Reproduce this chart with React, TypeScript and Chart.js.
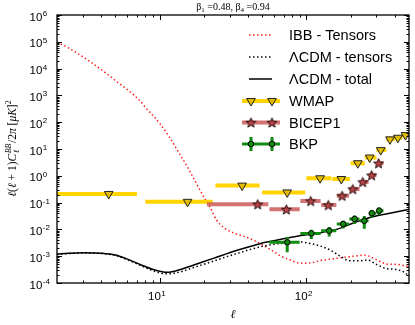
import React, { useEffect, useRef } from 'react';
import { Chart, registerables } from 'chart.js';
Chart.register(...registerables);

const W = 415;
const H = 325;

// ---- Theory curves ----
const IBB_ELL = [2, 2.32, 2.67, 3.05, 3.48, 5, 7.35, 8.15, 9.08, 10.1, 11.6, 13.7, 15.5, 18.8, 20.3, 22.1, 24.4, 27.8, 32.4, 37.9, 44.3, 51.6, 60.3, 66.7, 75.9, 86.3, 95.7, 109, 124, 160, 218, 248, 297, 330, 365, 405, 500];
const IBB_TENSORS = [9.5e4, 6.5e4, 4.1e4, 2.6e4, 1.6e4, 3.6e3, 631, 316, 170, 85, 29, 6.5, 2.1, 0.3, 0.141, 0.066, 0.0224, 0.011, 7.1e-3, 5.4e-3, 3.8e-3, 2.4e-3, 1.48e-3, 1.02e-3, 7.6e-4, 5.75e-4, 5.4e-4, 5.75e-4, 6.8e-4, 8.3e-4, 1.02e-3, 1.1e-3, 7.6e-4, 5.75e-4, 5.0e-4, 5.0e-4, 4.1e-4];

const LCDM_T_ELL = [2, 2.4, 3.1, 4, 5, 6.1, 7.5, 9.2, 11.3, 13.9, 17.1, 22.6, 27.8, 34.2, 42, 51.6, 63.4, 77.8, 90.8, 106, 124, 145, 169, 197, 230, 261, 297, 347, 405, 460, 500];
const LCDM_TENSORS = [1.17e-3, 1.26e-3, 1.32e-3, 1.26e-3, 1.07e-3, 7.2e-4, 4.4e-4, 2.75e-4, 2.2e-4, 2.6e-4, 3.8e-4, 6.2e-4, 9.1e-4, 1.29e-3, 1.82e-3, 2.4e-3, 2.9e-3, 3.2e-3, 3.4e-3, 3.0e-3, 2.4e-3, 1.7e-3, 1.02e-3, 6.8e-4, 6.8e-4, 7.2e-4, 5.1e-4, 3.5e-4, 3.2e-4, 2.6e-4, 1.82e-4];

const LCDM_TOT_ELL = [2, 2.4, 3.1, 4, 5, 6.1, 7.5, 9.2, 11.3, 13.9, 17.1, 23.2, 34.2, 49, 63.4, 86.3, 117.5, 160, 207, 282, 385, 500];
const LCDM_TOTAL = [1.2e-3, 1.29e-3, 1.35e-3, 1.29e-3, 1.1e-3, 7.6e-4, 4.7e-4, 3.1e-4, 2.5e-4, 3.2e-4, 4.7e-4, 8.3e-4, 1.7e-3, 3.0e-3, 4.0e-3, 5.6e-3, 7.1e-3, 1.0e-2, 1.7e-2, 2.95e-2, 4.2e-2, 5.6e-2];

// ---- WMAP upper limits ----
const WMAP_ELL = [4.5, 15.5, 36.5, 74, 124, 173, 224, 270, 321, 371, 420, 473];
const WMAP_LO = [2, 8, 24, 50, 100, 150, 200, 250, 300, 350, 400, 450];
const WMAP_HI = [7, 23, 48, 98, 148, 198, 250, 300, 350, 400, 450, 500];
const WMAP_LIMIT = [0.21, 0.107, 0.43, 0.24, 0.81, 0.76, 2.95, 4.8, 9.1, 22.9, 26.3, 33.1];

// ---- BICEP1 ----
const BICEP1_ELL = [46.6, 73, 107, 141, 175, 207, 242, 278, 310];
const BICEP1_LO = [21, 56, 91, 126, 161, 196, 231, 266, 301];
const BICEP1_HI = [55, 90, 125, 160, 195, 230, 265, 300, 335];
const BICEP1_VAL = [0.087, 0.056, 0.115, 0.081, 0.18, 0.32, 0.59, 1.05, 2.95];

// ---- BKP ----
const BKP_ELL = [74, 108, 143, 178, 213, 248, 279, 313];
const BKP_LO = [56, 91, 126, 161, 196, 231, 266, 301];
const BKP_HI = [90, 125, 160, 195, 230, 265, 300, 335];
const BKP_VAL = [0.0033, 0.0071, 0.0089, 0.0159, 0.0245, 0.021, 0.04, 0.05];
const BKP_ERR = [0.0019, 0.0027, 0.0035, 0.005, 0.0085, 0.0105, 0.012, 0.0155];

// ---- axes ----
const X_MIN = 2;
const X_MAX = 500;
const Y_MIN = 1e-4;
const Y_MAX = 1e6;
const X_TICK_EXP = [1, 2];
const Y_TICK_EXP = [-4, -3, -2, -1, 0, 1, 2, 3, 4, 5, 6];

const TITLE_PARTS = ['β', '1', ' =0.48, β', '4', ' =0.94'];
const LEGEND_LABELS = ['IBB - Tensors', 'ΛCDM - tensors', 'ΛCDM - total', 'WMAP', 'BICEP1', 'BKP'];

const RED = '#ff2020';
const YELLOW = '#ffd400';
const TRI_FILL = '#e2bc00';
const BICEP_BAR = 'rgba(205,90,90,0.85)';
const STAR_FILL = '#b84448';
const GREEN = '#108c10';

const SANS = "'Liberation Sans', Arial, sans-serif";
const SERIF = "'Liberation Serif', 'DejaVu Serif', serif";

function makeStar(): HTMLCanvasElement {
  const c = document.createElement('canvas');
  c.width = 13;
  c.height = 13;
  const g = c.getContext('2d')!;
  g.beginPath();
  for (let i = 0; i < 10; i++) {
    const r = i % 2 === 0 ? 5.2 : 2.2;
    const a = -Math.PI / 2 + (i * Math.PI) / 5;
    const px = 6.5 + r * Math.cos(a);
    const py = 7 + r * Math.sin(a);
    if (i === 0) g.moveTo(px, py);
    else g.lineTo(px, py);
  }
  g.closePath();
  g.fillStyle = STAR_FILL;
  g.fill();
  g.lineWidth = 1;
  g.strokeStyle = '#2a1010';
  g.stroke();
  return c;
}

const pts = (xs: number[], ys: number[]) => xs.map((x, i) => ({ x, y: ys[i] }));
const hSeg = (lo: number[], hi: number[], v: number[]) =>
  lo.flatMap((l, i) => [{ x: l, y: v[i] }, { x: hi[i], y: v[i] }, { x: hi[i], y: null as any }]);
const vSeg = (xs: number[], v: number[], e: number[]) =>
  xs.flatMap((x, i) => [{ x, y: v[i] - e[i] }, { x, y: v[i] + e[i] }, { x, y: null as any }]);

function drawTri(ctx: CanvasRenderingContext2D, x: number, y: number, r: number) {
  ctx.beginPath();
  ctx.moveTo(x, y + r);
  ctx.lineTo(x - r * Math.sin(Math.PI / 3), y - r / 2);
  ctx.lineTo(x + r * Math.sin(Math.PI / 3), y - r / 2);
  ctx.closePath();
  ctx.fillStyle = TRI_FILL;
  ctx.fill();
  ctx.lineWidth = 1;
  ctx.strokeStyle = '#222';
  ctx.stroke();
}

const decoPlugin = (star: HTMLCanvasElement) => ({
  id: 'deco',
  afterDraw(chart: any) {
    const { ctx, chartArea: a, scales } = chart;
    const xs = scales.x;
    const ys = scales.y;
    ctx.save();
    // frame
    ctx.strokeStyle = '#000';
    ctx.lineWidth = 1.3;
    ctx.strokeRect(a.left, a.top, a.right - a.left, a.bottom - a.top);
    ctx.lineWidth = 1;
    // x ticks
    ctx.beginPath();
    for (let d = 0; d <= 3; d++) {
      for (let m = 1; m <= 9; m++) {
        const v = m * Math.pow(10, d);
        if (v <= X_MIN || v >= X_MAX) continue;
        const px = Math.round(xs.getPixelForValue(v)) + 0.5;
        const len = m === 1 ? 5 : 2.5;
        ctx.moveTo(px, a.bottom);
        ctx.lineTo(px, a.bottom - len);
        ctx.moveTo(px, a.top);
        ctx.lineTo(px, a.top + len);
      }
    }
    for (let d = -4; d <= 6; d++) {
      for (let m = 1; m <= 9; m++) {
        const v = m * Math.pow(10, d);
        if (v <= Y_MIN * 0.999 || v >= Y_MAX * 1.001) continue;
        const py = Math.round(ys.getPixelForValue(v)) + 0.5;
        const len = m === 1 ? 5 : 2.5;
        ctx.moveTo(a.left, py);
        ctx.lineTo(a.left + len, py);
        ctx.moveTo(a.right, py);
        ctx.lineTo(a.right - len, py);
      }
    }
    ctx.stroke();

    // tick labels
    ctx.fillStyle = '#000';
    ctx.textBaseline = 'alphabetic';
    ctx.textAlign = 'left';
    for (const e of Y_TICK_EXP) {
      const py = ys.getPixelForValue(Math.pow(10, e));
      ctx.font = `11.5px ${SANS}`;
      ctx.fillText('10', 29.5, py + 5.5);
      const w = ctx.measureText('10').width;
      ctx.font = `8px ${SANS}`;
      ctx.fillText(String(e), 29.5 + w + 0.5, py + 1);
    }
    for (const e of X_TICK_EXP) {
      const px = xs.getPixelForValue(Math.pow(10, e));
      ctx.font = `11.5px ${SANS}`;
      const w1 = ctx.measureText('10').width;
      ctx.font = `8px ${SANS}`;
      const w2 = ctx.measureText(String(e)).width;
      const x0 = px - 3 - (w1 + w2) / 2;
      ctx.font = `11.5px ${SANS}`;
      ctx.fillText('10', x0, a.bottom + 17);
      ctx.font = `8px ${SANS}`;
      ctx.fillText(String(e), x0 + w1 + 0.5, a.bottom + 12.5);
    }

    // x label
    ctx.font = `italic 12px ${SERIF}`;
    ctx.textAlign = 'center';
    ctx.fillText('ℓ', (a.left + a.right) / 2, 318);

    // title
    const runs = TITLE_PARTS.map((t, i) => ({ t, sub: i % 2 === 1 }));
    let tw = 0;
    for (const r of runs) {
      ctx.font = r.sub ? `7px ${SERIF}` : `10px ${SERIF}`;
      tw += ctx.measureText(r.t).width;
    }
    let tx = (a.left + a.right) / 2 - tw / 2;
    ctx.textAlign = 'left';
    for (const r of runs) {
      ctx.font = r.sub ? `7px ${SERIF}` : `10px ${SERIF}`;
      ctx.fillText(r.t, tx, r.sub ? 11.5 : 9.5);
      tx += ctx.measureText(r.t).width;
    }

    // y label (rotated)
    ctx.save();
    ctx.translate(16, (a.top + a.bottom) / 2);
    ctx.rotate(-Math.PI / 2);
    const big = `italic 11.5px ${SERIF}`;
    const bigR = `11.5px ${SERIF}`;
    const small = `italic 8px ${SERIF}`;
    const items: any[] = [
      { t: 'ℓ', f: big, dy: 0 },
      { t: '(', f: bigR, dy: 0 },
      { t: 'ℓ', f: big, dy: 0 },
      { t: ' + 1)', f: bigR, dy: 0 },
      { t: 'C', f: big, dy: 0 },
      { stack: [{ t: 'ℓ', f: small, dy: 3 }, { t: 'BB', f: small, dy: -5 }] },
      { t: '/2', f: bigR, dy: 0 },
      { t: 'π', f: big, dy: 0 },
      { t: ' [', f: bigR, dy: 0 },
      { t: 'μK', f: big, dy: 0 },
      { t: ']', f: bigR, dy: 0 },
      { t: '2', f: `8px ${SERIF}`, dy: -5 },
    ];
    const widthOf = (it: any) => {
      if (it.stack) {
        return Math.max(...it.stack.map((s: any) => { ctx.font = s.f; return ctx.measureText(s.t).width; }));
      }
      ctx.font = it.f;
      return ctx.measureText(it.t).width;
    };
    const total = items.reduce((s, it) => s + widthOf(it), 0);
    let lx = -total / 2;
    for (const it of items) {
      const w = widthOf(it);
      const list = it.stack ? it.stack : [it];
      for (const s of list) {
        ctx.font = s.f;
        ctx.fillText(s.t, lx + (it.stack ? 0.5 : 0), s.dy);
      }
      lx += w + (it.stack ? 1 : 0);
    }
    ctx.restore();

    // legend
    ctx.font = `14.5px ${SANS}`;
    ctx.textBaseline = 'middle';
    ctx.textAlign = 'left';
    const rows = [35, 57, 79, 101, 122.5, 144];
    const tx0 = 289;
    LEGEND_LABELS.forEach((lab, i) => {
      const y = rows[i];
      ctx.fillStyle = '#000';
      ctx.fillText(lab, tx0, y + 1);
    });
    // line entries
    const lineEntry = (y: number, color: string, dash: number[], lw: number) => {
      ctx.save();
      ctx.strokeStyle = color;
      ctx.lineWidth = lw;
      ctx.setLineDash(dash);
      ctx.beginPath();
      ctx.moveTo(249, y);
      ctx.lineTo(272, y);
      ctx.stroke();
      ctx.restore();
    };
    lineEntry(rows[0], RED, [1.5, 2.5], 1.5);
    lineEntry(rows[1], '#000', [1.5, 2.5], 1.5);
    lineEntry(rows[2], '#000', [], 1.5);
    const barEntry = (y: number, color: string) => {
      ctx.save();
      ctx.strokeStyle = color;
      ctx.lineWidth = 4;
      ctx.beginPath();
      ctx.moveTo(242, y);
      ctx.lineTo(280, y);
      ctx.stroke();
      ctx.restore();
    };
    barEntry(rows[3], YELLOW);
    drawTri(ctx, 251, rows[3], 5);
    drawTri(ctx, 272, rows[3], 5);
    barEntry(rows[4], BICEP_BAR);
    ctx.drawImage(star, 251 - star.width / 2, rows[4] - star.height / 2);
    ctx.drawImage(star, 272 - star.width / 2, rows[4] - star.height / 2);
    ctx.save();
    ctx.strokeStyle = GREEN;
    ctx.lineWidth = 3;
    ctx.beginPath();
    ctx.moveTo(242, rows[5]);
    ctx.lineTo(280, rows[5]);
    for (const cx of [251, 272]) {
      ctx.moveTo(cx, rows[5] - 7);
      ctx.lineTo(cx, rows[5] + 7);
    }
    ctx.stroke();
    for (const cx of [251, 272]) {
      ctx.beginPath();
      ctx.arc(cx, rows[5], 2.8, 0, Math.PI * 2);
      ctx.fillStyle = GREEN;
      ctx.fill();
      ctx.lineWidth = 1;
      ctx.strokeStyle = '#000';
      ctx.stroke();
    }
    ctx.restore();

    ctx.restore();
  },
});

export default function App() {
  const ref = useRef<HTMLCanvasElement | null>(null);
  useEffect(() => {
    document.body.style.margin = '0';
    const canvas = ref.current!;
    const star = makeStar();
    const base = { pointRadius: 0, pointHoverRadius: 0, fill: false, spanGaps: false, borderCapStyle: 'butt' as const };
    const seq: any[] = [
      { ...base, type: 'line', label: LEGEND_LABELS[0], data: pts(IBB_ELL, IBB_TENSORS), borderColor: RED, borderWidth: 1.5, borderDash: [1.5, 2.5], cubicInterpolationMode: 'monotone' },
      { ...base, type: 'line', label: LEGEND_LABELS[1], data: pts(LCDM_T_ELL, LCDM_TENSORS), borderColor: '#000', borderWidth: 1.5, borderDash: [1.5, 2.5], cubicInterpolationMode: 'monotone' },
      { ...base, type: 'line', label: LEGEND_LABELS[2], data: pts(LCDM_TOT_ELL, LCDM_TOTAL), borderColor: '#000', borderWidth: 1.5, cubicInterpolationMode: 'monotone' },
      { ...base, type: 'line', label: 'WMAP bins', data: hSeg(WMAP_LO, WMAP_HI, WMAP_LIMIT), borderColor: YELLOW, borderWidth: 4 },
      { ...base, type: 'line', label: 'BICEP1 bins', data: hSeg(BICEP1_LO, BICEP1_HI, BICEP1_VAL), borderColor: BICEP_BAR, borderWidth: 4 },
      { ...base, type: 'line', label: 'BKP bins', data: hSeg(BKP_LO, BKP_HI, BKP_VAL), borderColor: GREEN, borderWidth: 3 },
      { ...base, type: 'line', label: 'BKP err', data: vSeg(BKP_ELL, BKP_VAL, BKP_ERR), borderColor: GREEN, borderWidth: 3 },
      { type: 'scatter', label: LEGEND_LABELS[3], data: pts(WMAP_ELL, WMAP_LIMIT), pointStyle: 'triangle', rotation: 180, pointRadius: 5, backgroundColor: TRI_FILL, borderColor: '#222', borderWidth: 1 },
      { type: 'scatter', label: LEGEND_LABELS[4], data: pts(BICEP1_ELL, BICEP1_VAL), pointStyle: star, pointRadius: 5 },
      { type: 'scatter', label: LEGEND_LABELS[5], data: pts(BKP_ELL, BKP_VAL), pointStyle: 'circle', pointRadius: 2.8, backgroundColor: GREEN, borderColor: '#000', borderWidth: 1 },
    ];
    const N = seq.length;
    seq.forEach((d, i) => (d.order = N - i));

    const chart = new Chart(canvas, {
      type: 'line',
      data: { datasets: seq },
      options: {
        animation: false,
        responsive: false,
        devicePixelRatio: 1,
        parsing: true as any,
        layout: { padding: { top: 15, right: 2, left: 0, bottom: 0 } },
        plugins: { legend: { display: false }, tooltip: { enabled: false }, title: { display: false } },
        events: [],
        scales: {
          x: {
            type: 'logarithmic',
            min: X_MIN,
            max: X_MAX,
            grid: { display: false },
            border: { display: false },
            ticks: { display: false },
            afterFit: (s: any) => { s.height = 42; },
          },
          y: {
            type: 'logarithmic',
            min: Y_MIN,
            max: Y_MAX,
            grid: { display: false },
            border: { display: false },
            ticks: { display: false },
            afterFit: (s: any) => { s.width = 57; },
          },
        },
      },
      plugins: [decoPlugin(star)],
    } as any);
    return () => chart.destroy();
  }, []);
  return <canvas ref={ref} width={W} height={H} style={{ display: 'block' }} />;
}
